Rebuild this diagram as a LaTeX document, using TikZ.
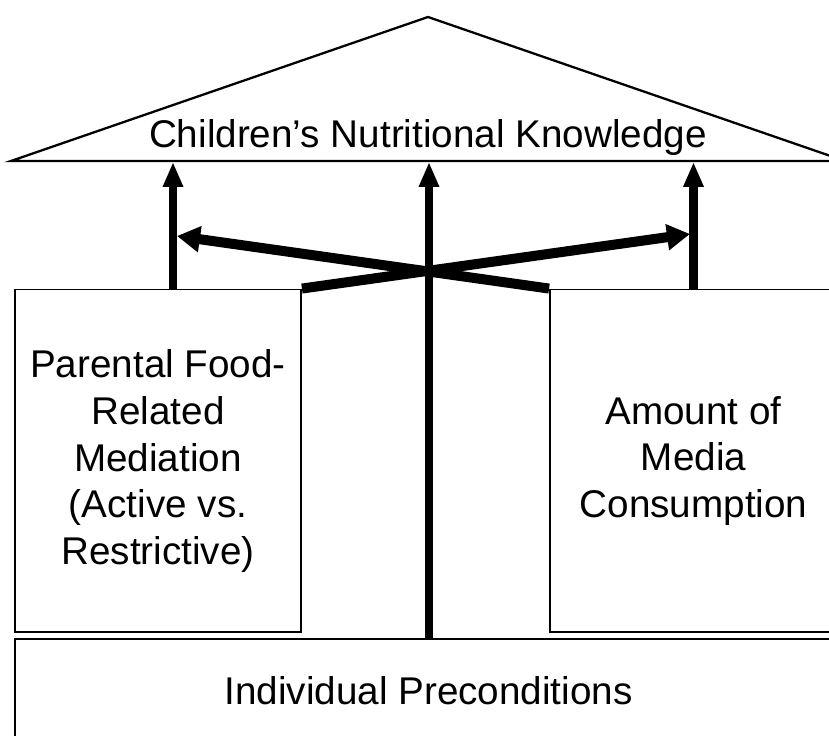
\documentclass[tikz,border=0pt]{standalone}
\usepackage{fontspec}
\setmainfont{Liberation Sans}
\usetikzlibrary{arrows.meta,positioning}

\tikzset{
    block/.style={rectangle, draw, line width=1.1pt, inner sep=0pt, align=center,
        font=\fontsize{22}{26.5}\selectfont},
    uparrow/.style={-{Triangle[length=0.5cm,width=0.38cm]}, line width=4.6pt},
    crossarrow/.style={-{Triangle[length=0.46cm,width=0.5cm]}, line width=5.7pt}
}

\begin{document}
\begin{tikzpicture}[
                    x=0.02cm, y=-0.02cm,
                    >=latex
                ]
                \useasboundingbox (0,0) rectangle (829,736);
                \clip (0,0) rectangle (829,736);

                % Roof
                \coordinate (apex) at (428,17);
                \coordinate (eaveL) at (11,161);
                \coordinate (eaveR) at (845,161);
                \draw [line width=1.3pt] (eaveL) -- (apex) -- (eaveR) -- cycle;
                \node [anchor=base, font=\fontsize{22}{26.5}\selectfont] (knowledge) at (428,148) {Children’s Nutritional Knowledge};

                % Blocks
                \node [block, minimum width=5.72cm, minimum height=6.86cm] (parental) at (158,461)
                    {Parental Food-\\Related\\Mediation\\(Active vs.\\Restrictive)};
                \node [block, minimum width=5.74cm, minimum height=6.86cm] (media) at (693.5,461)
                    {Amount of\\Media\\Consumption};
                \node [block, minimum width=16.54cm, minimum height=2.06cm] (indiv) at (428.5,690.5)
                    {Individual Preconditions};

                % Arrow tips
                \coordinate (lefttip) at (173,162);
                \coordinate (midtip) at (429,162);
                \coordinate (righttip) at (693.5,162);
                \coordinate (crossL) at (177,236);
                \coordinate (crossR) at (690,234);

                % Connections
                \draw [uparrow] (parental.north -| lefttip) -- (lefttip);
                \draw [uparrow] (media.north -| righttip) -- (righttip);
                \draw [uparrow] (indiv.north -| midtip) -- (midtip);
                \draw [crossarrow] (parental.north east) -- (crossR);
                \draw [crossarrow] (media.north west) -- (crossL);
            \end{tikzpicture}
\end{document}
